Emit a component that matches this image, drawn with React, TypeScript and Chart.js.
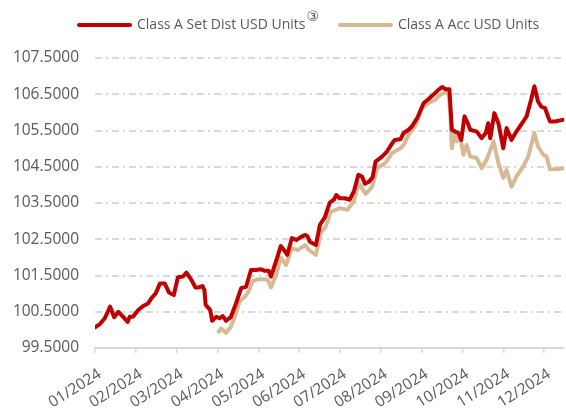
import React, { useEffect, useRef } from "react";
import { Chart, registerables } from "chart.js";

Chart.register(...registerables);

const monthLabels = [
  "01/2024", "02/2024", "03/2024", "04/2024", "05/2024", "06/2024",
  "07/2024", "08/2024", "09/2024", "10/2024", "11/2024", "12/2024",
];

const seriesLabels = ["Class A Set Dist USD Units", "Class A Acc USD Units"];
const seriesNotes = ["③", ""];
const seriesColors = ["#c00000", "#d6ba96"];

const yMin = 99.5;
const yMax = 107.5;
const yStep = 1;
const xMax = 11.49;

// x positions in months from 01/2024
const setDistPos = [
  0.0, 0.12, 0.24, 0.37, 0.47, 0.57, 0.69, 0.8, 0.85, 0.93, 1.06, 1.18, 1.3, 1.38, 1.49,
  1.59, 1.71, 1.81, 1.93, 2.03, 2.15, 2.24, 2.36, 2.46, 2.54, 2.63, 2.68, 2.71, 2.82, 2.87,
  2.97, 3.05, 3.13, 3.21, 3.33, 3.46, 3.58, 3.7, 3.82, 3.94, 4.07, 4.15, 4.25, 4.31, 4.43,
  4.55, 4.63, 4.71, 4.82, 4.93, 5.04, 5.15, 5.2, 5.26, 5.41, 5.51, 5.63, 5.75, 5.85, 5.91,
  5.99, 6.12, 6.24, 6.34, 6.45, 6.54, 6.61, 6.71, 6.8, 6.87, 7.03, 7.15, 7.28, 7.34, 7.48,
  7.56, 7.68, 7.76, 7.89, 8.05, 8.17, 8.29, 8.41, 8.5, 8.58, 8.68, 8.7, 8.74, 8.82, 8.9,
  8.97, 9.05, 9.13, 9.19, 9.35, 9.47, 9.57, 9.63, 9.68, 9.78, 9.88, 10.0, 10.08, 10.2,
  10.32, 10.46, 10.57, 10.68, 10.76, 10.85, 10.93, 11.02, 11.14, 11.26, 11.49,
];
const setDistValues = [
  100.07, 100.16, 100.32, 100.64, 100.35, 100.5, 100.36, 100.22, 100.36, 100.36, 100.55,
  100.66, 100.73, 100.87, 101.01, 101.28, 101.28, 101.03, 100.96, 101.45, 101.47, 101.58,
  101.38, 101.17, 101.17, 101.21, 101.1, 100.69, 100.55, 100.25, 100.36, 100.32, 100.38,
  100.25, 100.36, 100.75, 101.15, 101.19, 101.65, 101.65, 101.67, 101.63, 101.63, 101.47,
  101.88, 102.31, 102.2, 102.07, 102.53, 102.48, 102.56, 102.62, 102.59, 102.43, 102.34,
  102.9, 103.11, 103.51, 103.59, 103.72, 103.63, 103.63, 103.59, 103.82, 104.28, 104.23,
  104.03, 104.09, 104.21, 104.64, 104.78, 104.92, 105.15, 105.24, 105.26, 105.43, 105.52,
  105.61, 105.84, 106.26, 106.37, 106.49, 106.62, 106.7, 106.64, 106.64, 106.26, 105.52,
  105.47, 105.43, 105.24, 105.89, 105.7, 105.52, 105.47, 105.29, 105.43, 105.7, 105.29,
  105.98, 105.7, 105.01, 105.57, 105.24, 105.47, 105.7, 105.89, 106.35, 106.72, 106.3,
  106.16, 106.12, 105.75, 105.75, 105.8,
];

const accPos = [
  3.03, 3.09, 3.21, 3.33, 3.44, 3.54, 3.68, 3.78, 3.85, 3.94, 4.1, 4.23, 4.31, 4.43, 4.55,
  4.68, 4.82, 4.96, 5.15, 5.24, 5.41, 5.53, 5.65, 5.77, 5.9, 5.99, 6.18, 6.34, 6.46, 6.63,
  6.79, 6.91, 7.11, 7.28, 7.48, 7.56, 7.64, 7.68, 7.85, 8.01, 8.17, 8.33, 8.46, 8.58, 8.66,
  8.7, 8.74, 8.8, 8.86, 8.94, 9.02, 9.1, 9.19, 9.35, 9.47, 9.59, 9.76, 9.88, 10.0, 10.08,
  10.2, 10.32, 10.49, 10.61, 10.76, 10.85, 10.98, 11.06, 11.14, 11.3, 11.49,
];
const accValues = [
  99.95, 100.04, 99.92, 100.09, 100.41, 100.78, 100.92, 101.1, 101.34, 101.38, 101.4,
  101.38, 101.17, 101.5, 102.0, 101.79, 102.25, 102.2, 102.34, 102.2, 102.07, 102.67,
  102.85, 103.26, 103.31, 103.36, 103.31, 103.54, 104.05, 103.75, 103.95, 104.46, 104.6,
  104.88, 105.01, 105.1, 105.29, 105.38, 105.65, 106.12, 106.26, 106.35, 106.49, 106.55,
  106.53, 105.98, 105.01, 105.4, 105.2, 105.38, 104.83, 105.1, 104.78, 104.74, 104.46,
  104.69, 105.2, 104.6, 104.19, 104.41, 103.95, 104.23, 104.51, 104.78, 105.43, 105.06,
  104.83, 104.78, 104.43, 104.43, 104.46,
];

const FONT = "'Open Sans', 'DejaVu Sans', sans-serif";
const TEXT_COLOR = "#595959";
const GRID_COLOR = "#d9d9d9";

const legendPlugin = {
  id: "customLegend",
  afterDraw(chart: any) {
    const ctx = chart.ctx as CanvasRenderingContext2D;
    ctx.save();
    const y = 25;
    let x = 77;
    chart.data.datasets.forEach((ds: any, i: number) => {
      ctx.strokeStyle = ds.borderColor;
      ctx.lineWidth = 4;
      ctx.lineCap = "round";
      ctx.beginPath();
      ctx.moveTo(x + 2, y);
      ctx.lineTo(x + 53, y);
      ctx.stroke();
      x += 60;
      ctx.font = `14px ${FONT}`;
      ctx.fillStyle = TEXT_COLOR;
      ctx.textBaseline = "middle";
      ctx.textAlign = "left";
      ctx.fillText(ds.label, x, y);
      x += ctx.measureText(ds.label).width;
      const note = seriesNotes[i];
      if (note) {
        ctx.font = `14px ${FONT}`;
        ctx.fillText(note, x + 1, y - 8);
        x += ctx.measureText(note).width + 1;
      }
      x += 19;
    });
    ctx.restore();
  },
};

export default function App() {
  const canvasRef = useRef<HTMLCanvasElement | null>(null);

  useEffect(() => {
    if (!canvasRef.current) return;
    const chart = new Chart(canvasRef.current, {
      type: "line",
      data: {
        datasets: [
          {
            label: seriesLabels[0],
            data: setDistPos.map((x, i) => ({ x, y: setDistValues[i] })),
            borderColor: seriesColors[0],
            backgroundColor: seriesColors[0],
            borderWidth: 4,
            pointRadius: 0,
            tension: 0,
            borderJoinStyle: "round",
            borderCapStyle: "round",
          },
          {
            label: seriesLabels[1],
            data: accPos.map((x, i) => ({ x, y: accValues[i] })),
            borderColor: seriesColors[1],
            backgroundColor: seriesColors[1],
            borderWidth: 4,
            pointRadius: 0,
            tension: 0,
            borderJoinStyle: "round",
            borderCapStyle: "round",
          },
        ],
      },
      options: {
        animation: false,
        responsive: true,
        maintainAspectRatio: false,
        layout: { padding: { top: 58, right: 0, bottom: 0, left: 0 } },
        plugins: {
          legend: { display: false },
          tooltip: { enabled: false },
        },
        scales: {
          x: {
            type: "linear",
            min: 0,
            max: xMax,
            afterFit: (s: any) => {
              s.height = 61;
            },
            grid: {
              drawOnChartArea: false,
              drawTicks: true,
              tickLength: 5,
              color: GRID_COLOR,
              lineWidth: 1.5,
            },
            border: { display: true, color: GRID_COLOR, width: 2 },
            ticks: {
              stepSize: 1,
              includeBounds: false,
              autoSkip: false,
              minRotation: 32,
              maxRotation: 32,
              padding: 12,
              labelOffset: 5,
              color: TEXT_COLOR,
              font: { family: FONT, size: 15.5 },
              callback: (v: any) => monthLabels[Math.round(Number(v))] ?? "",
            },
          },
          y: {
            min: yMin,
            max: yMax,
            afterFit: (s: any) => {
              s.width = 95;
            },
            grid: {
              drawTicks: false,
              color: GRID_COLOR,
              lineWidth: 2,
            },
            border: { display: false, dash: [7, 4, 2, 4] },
            ticks: {
              stepSize: yStep,
              padding: 16,
              color: TEXT_COLOR,
              font: { family: FONT, size: 15.5 },
              callback: (v: any) => Number(v).toFixed(4),
            },
          },
        },
      },
      plugins: [legendPlugin],
    });
    return () => chart.destroy();
  }, []);

  return (
    <div style={{ position: "absolute", left: 0, top: 0, width: 566, height: 409 }}>
      <canvas ref={canvasRef} />
    </div>
  );
}
